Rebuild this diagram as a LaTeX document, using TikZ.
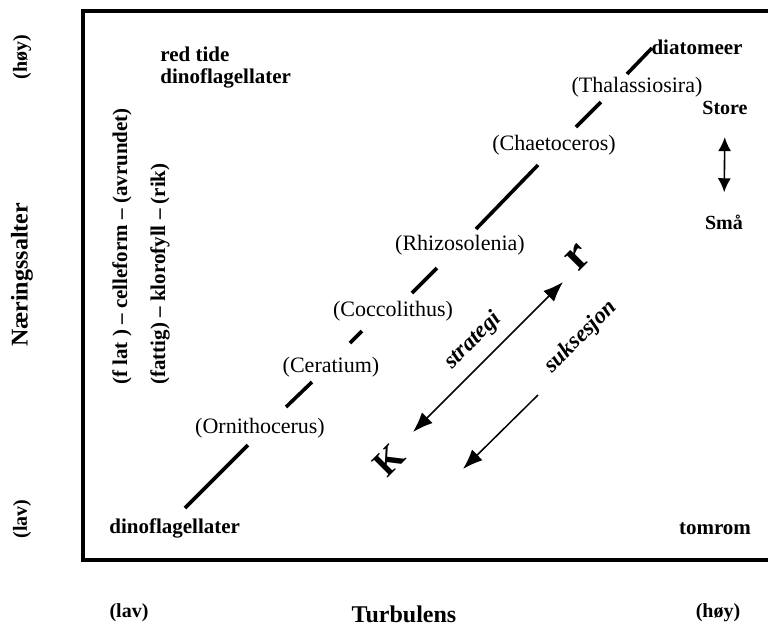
\documentclass[tikz,border=0pt]{standalone}
\usepackage{fontspec}
\setmainfont{Liberation Serif}
\usetikzlibrary{arrows.meta}

\tikzset{
  lbl/.style={font=\fontsize{10.5}{11}\selectfont\bfseries, inner sep=0pt},
  small/.style={font=\fontsize{10}{11}\selectfont\bfseries, inner sep=0pt},
  species/.style={font=\fontsize{11}{13}\selectfont, inner sep=0pt},
  axislbl/.style={font=\fontsize{12}{14}\selectfont\bfseries, inner sep=0pt},
  seg/.style={line width=1.8pt},
  arr/.style={line width=0.75pt, >={Latex[length=10pt,width=7.5pt]}},
  letter/.style={font=\bfseries, inner sep=0pt, rotate=45},
  diag/.style={font=\fontsize{11.5}{13}\selectfont\bfseries\itshape, inner sep=0pt, rotate=45}
}

\begin{document}
\begin{tikzpicture}[x=0.5pt, y=-0.5pt]
  \useasboundingbox (0,0) rectangle (768,628);
  % frame, open to the right
  \draw [line width=2pt] (800,11) -- (83,11) -- (83,560) -- (800,560);

  % axes
  \node [small, rotate=90] (hoyy) at (22,57) {(høy)};
  \node [axislbl, rotate=90] (naering) at (22,275) {Næringssalter};
  \node [small, rotate=90] (lavy) at (22,519) {(lav)};
  \node [small] (lavx) at (129,613) {(lav)};
  \node [axislbl] (turb) at (404,614) {Turbulens};
  \node [small] (hoyx) at (718,613) {(høy)};

  % labels in the frame
  \node [lbl, align=left, anchor=west] (redtide) at (160,68) {red tide\\dinoflagellater};
  \node [lbl, rotate=90, anchor=west] (celle) at (122,385) {(f lat ) -- celleform -- (avrundet)};
  \node [lbl, rotate=90, anchor=west] (klorofyll) at (160,385) {(fattig) -- klorofyll -- (rik)};
  \node [lbl, anchor=west] (dino) at (109,528) {dinoflagellater};
  \node [lbl] (tomrom) at (715,529) {tomrom};
  \node [lbl] (diatom) at (697,47) {diatomeer};
  \node [small] (store) at (725,108) {Store};
  \node [small] (sma) at (724,222) {Små};
  \draw [line width=0.8pt, >={Latex[length=7pt,width=6.5pt]}, <->, shorten <=11pt, shorten >=11pt] (store.south) -- (sma.north);

  % species
  \node [species] (thal) at (637,87) {(Thalassiosira)};
  \node [species] (chaet) at (554,145) {(Chaetoceros)};
  \node [species] (rhizo) at (460,245) {(Rhizosolenia)};
  \node [species] (cocco) at (393,311) {(Coccolithus)};
  \node [species] (cera) at (331,367) {(Ceratium)};
  \node [species] (orni) at (260,428) {(Ornithocerus)};

  % broken diagonal
  \draw [seg] (185,508) -- (248,445);
  \draw [seg] (286,407) -- (312,382);
  \draw [seg] (350,343) -- (362,331);
  \draw [seg] (412,293) -- (437,268);
  \draw [seg] (476,229) -- (538,165);
  \draw [seg] (576,127) -- (601,102);
  \draw [seg] (627,74) -- (652,48);

  % strategi and suksesjon
  \node [letter, font=\fontsize{18}{20}\selectfont\bfseries] (K) at (389,460) {K};
  \node [letter, font=\fontsize{23}{26}\selectfont\bfseries] (r) at (578,258) {r};
  \coordinate (kend) at (413,432);
  \coordinate (rend) at (563,282);
  \draw [arr, <->] (kend) -- (rend);
  \node [diag] (strategi) at (473,341) {strategi};

  \coordinate (sstart) at (538,395);
  \coordinate (send) at (463,469);
  \draw [arr, ->] (sstart) -- (send);
  \node [diag] (suksesjon) at (581,337) {suksesjon};
\end{tikzpicture}
\end{document}
